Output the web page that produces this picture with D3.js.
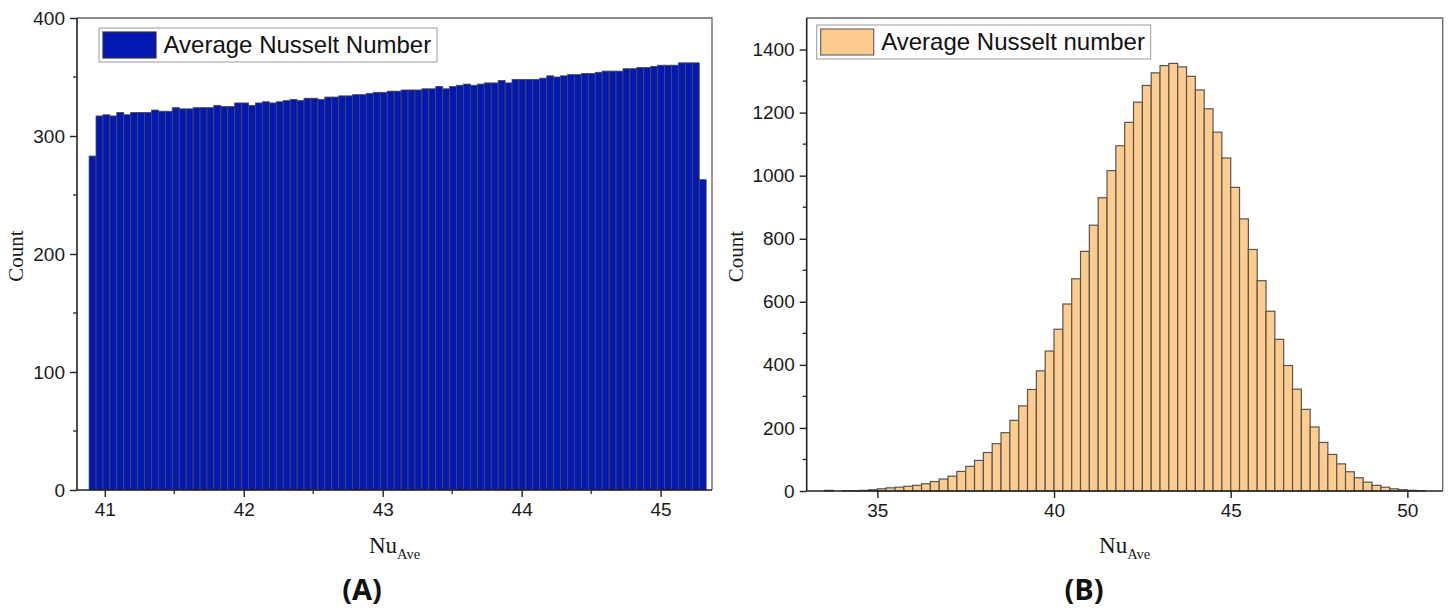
<!DOCTYPE html>
<html>
<head>
<meta charset="utf-8">
<script src="https://cdn.jsdelivr.net/npm/d3@7"></script>
<style>
  html, body { margin: 0; padding: 0; background: #ffffff; }
  svg { display: block; }
</style>
</head>
<body>
<svg id="chart" width="1453" height="610"></svg>
<script>
// ---------------- DATA ----------------
// Panel A: histogram of average Nusselt number (uniform-like)
const binStartA = 40.887;
const binWidthA = 0.0499;
const countsA = [
  283,
  317, 318, 317, 320, 318, 320, 320, 320, 322, 321, 321, 324, 323, 323, 324, 324, 324, 326, 325, 325,
  328, 328, 326, 328, 329, 328, 329, 330, 331, 330, 332, 332, 331, 333, 333, 334, 334, 335, 335, 336,
  337, 337, 338, 338,
  339, 339, 339, 340, 340, 342, 340, 342, 343, 344, 343, 344, 345, 345, 347, 345, 348, 348, 348, 348,
  349, 351, 350, 351, 352, 352, 353, 353, 354, 355, 355, 355, 357, 357, 358, 358, 359, 360, 360, 360,
  362, 362, 362,
  263
];
const xTicksA = [41, 42, 43, 44, 45];
const xMinorA = [41.5, 42.5, 43.5, 44.5];
const yTicksA = [0, 100, 200, 300, 400];
const yMinorA = [50, 150, 250, 350];
const legendA = "Average Nusselt Number";

// Panel B: histogram of average Nusselt number (bell-shaped)
const binStartB = 33.5;
const binWidthB = 0.25;
const countsB = [
  2, 0, 1, 1, 2, 4,
  7, 10, 12, 15, 18, 23, 30, 38, 47, 62, 78, 97, 122, 150, 185, 224, 270, 322, 381, 444,
  513, 593, 673, 760, 843, 930, 1016, 1095, 1169, 1233, 1286, 1326, 1349, 1356, 1345, 1315, 1272, 1212, 1138, 1056,
  963, 863, 766, 667, 570, 481, 398, 323, 259, 203, 154, 116, 86, 61, 42, 28, 18, 12, 7, 4,
  2, 1
];
const xTicksB = [35, 40, 45, 50];
const yTicksB = [0, 200, 400, 600, 800, 1000, 1200, 1400];
const yMinorB = [100, 300, 500, 700, 900, 1100, 1300];
const legendB = "Average Nusselt number";

const yTitle = "Count";
const xTitleMain = "Nu";
const xTitleSub = "Ave";
const panelLabels = ["(A)", "(B)"];

// ---------------- LAYOUT ----------------
const svg = d3.select("#chart");
svg.append("rect").attr("width", 1453).attr("height", 610).attr("fill", "#ffffff");

const SANS = "'Liberation Sans', Arial, sans-serif";
const SERIF = "'Liberation Serif', 'Times New Roman', serif";

function drawPanel(cfg) {
  const g = svg.append("g");
  const x = d3.scaleLinear().domain(cfg.xDomain).range([cfg.left, cfg.right]);
  const y = d3.scaleLinear().domain(cfg.yDomain).range([cfg.bottom, cfg.top]);

  // bars
  const bins = cfg.counts.map((c, i) => ({
    x0: cfg.binStart + i * cfg.binWidth,
    x1: cfg.binStart + (i + 1) * cfg.binWidth,
    c
  }));
  g.append("g").selectAll("rect").data(bins).join("rect")
    .attr("x", d => x(d.x0))
    .attr("width", d => x(d.x1) - x(d.x0))
    .attr("y", d => y(d.c))
    .attr("height", d => y(0) - y(d.c))
    .attr("fill", cfg.fill)
    .attr("stroke", cfg.barStroke)
    .attr("stroke-width", cfg.barStrokeWidth);

  // frame top/right
  g.append("path")
    .attr("d", `M${cfg.left},${cfg.top}H${cfg.right}V${cfg.bottom}`)
    .attr("fill", "none").attr("stroke", "#666").attr("stroke-width", 1.3);

  // axes
  const yAxis = d3.axisLeft(y).tickValues(cfg.yTicks).tickSize(7).tickPadding(5).tickFormat(d3.format("d"));
  const ya = g.append("g").attr("transform", `translate(${cfg.left},0)`).call(yAxis);
  const xAxis = d3.axisBottom(x).tickValues(cfg.xTicks).tickSize(7).tickPadding(6).tickFormat(d3.format("d"));
  const xa = g.append("g").attr("transform", `translate(0,${cfg.bottom})`).call(xAxis);
  [ya, xa].forEach(a => {
    a.select(".domain").attr("stroke", "#222").attr("stroke-width", 1.6);
    a.selectAll(".tick line").attr("stroke", "#222").attr("stroke-width", 1.4);
    a.selectAll(".tick text").attr("font-family", SANS).attr("font-size", 19).attr("fill", "#1a1a1a");
  });
  ya.select(".domain").attr("d", `M0,${cfg.top}V${cfg.bottom}`);
  xa.select(".domain").attr("d", `M${cfg.left},0H${cfg.right}`);

  // minor ticks
  g.append("g").selectAll("line").data(cfg.yMinor || []).join("line")
    .attr("x1", cfg.left - 4).attr("x2", cfg.left)
    .attr("y1", d => y(d)).attr("y2", d => y(d))
    .attr("stroke", "#222").attr("stroke-width", 1.3);
  g.append("g").selectAll("line").data(cfg.xMinor || []).join("line")
    .attr("x1", d => x(d)).attr("x2", d => x(d))
    .attr("y1", cfg.bottom).attr("y2", cfg.bottom + 4)
    .attr("stroke", "#222").attr("stroke-width", 1.3);

  // legend
  const lg = g.append("g").attr("transform", `translate(${cfg.legendX},${cfg.legendY})`);
  lg.append("rect").attr("x", 0).attr("y", 0).attr("width", cfg.legendW).attr("height", 34)
    .attr("fill", "#ffffff").attr("stroke", "#9a9a9a").attr("stroke-width", 1);
  lg.append("rect").attr("x", 4).attr("y", 4).attr("width", 53).attr("height", 26)
    .attr("fill", cfg.fill).attr("stroke", cfg.legendSwatchStroke).attr("stroke-width", 1.2);
  lg.append("text").attr("x", 64.5).attr("y", 24.5)
    .attr("font-family", SANS).attr("font-size", 24).attr("fill", "#111")
    .text(cfg.legendText);

  // y title
  g.append("text")
    .attr("transform", `translate(${cfg.yTitleX},${(cfg.top + cfg.bottom) / 2 + 2}) rotate(-90)`)
    .attr("text-anchor", "middle")
    .attr("font-family", SERIF).attr("font-size", 21).attr("fill", "#1a1a1a")
    .text(yTitle);

  // x title with subscript
  const xt = g.append("text")
    .attr("x", (cfg.left + cfg.right) / 2).attr("y", 553)
    .attr("text-anchor", "middle")
    .attr("font-family", SERIF).attr("fill", "#1a1a1a");
  xt.append("tspan").attr("font-size", 23).text(xTitleMain);
  xt.append("tspan").attr("font-size", 14.5).attr("dy", 6).text(xTitleSub);

  // panel label
  svg.append("text")
    .attr("x", cfg.labelX).attr("y", 600)
    .attr("text-anchor", "middle")
    .attr("font-family", "'Open Sans', 'Noto Sans', sans-serif")
    .attr("font-weight", "bold").attr("font-size", 29).attr("fill", "#111")
    .text(cfg.label);
}

drawPanel({
  left: 77, right: 712, top: 18, bottom: 490,
  xDomain: [40.8, 45.37], yDomain: [0, 400],
  counts: countsA, binStart: binStartA, binWidth: binWidthA,
  fill: "#0318b3", barStroke: "#4a4a4a", barStrokeWidth: 0.8,
  xTicks: xTicksA, xMinor: xMinorA, yTicks: yTicksA, yMinor: yMinorA,
  legendX: 99, legendY: 28, legendW: 338, legendText: legendA, legendSwatchStroke: "#333",
  yTitleX: 23, label: panelLabels[0], labelX: 362
});

drawPanel({
  left: 806.7, right: 1442.7, top: 18, bottom: 491,
  xDomain: [33.0, 51.0], yDomain: [0, 1500],
  counts: countsB, binStart: binStartB, binWidth: binWidthB,
  fill: "#ffcc90", barStroke: "#555", barStrokeWidth: 1.2,
  xTicks: xTicksB, xMinor: [], yTicks: yTicksB, yMinor: yMinorB,
  legendX: 816.7, legendY: 25, legendW: 334, legendText: legendB, legendSwatchStroke: "#666",
  yTitleX: 743, label: panelLabels[1], labelX: 1084
});
</script>
</body>
</html>
